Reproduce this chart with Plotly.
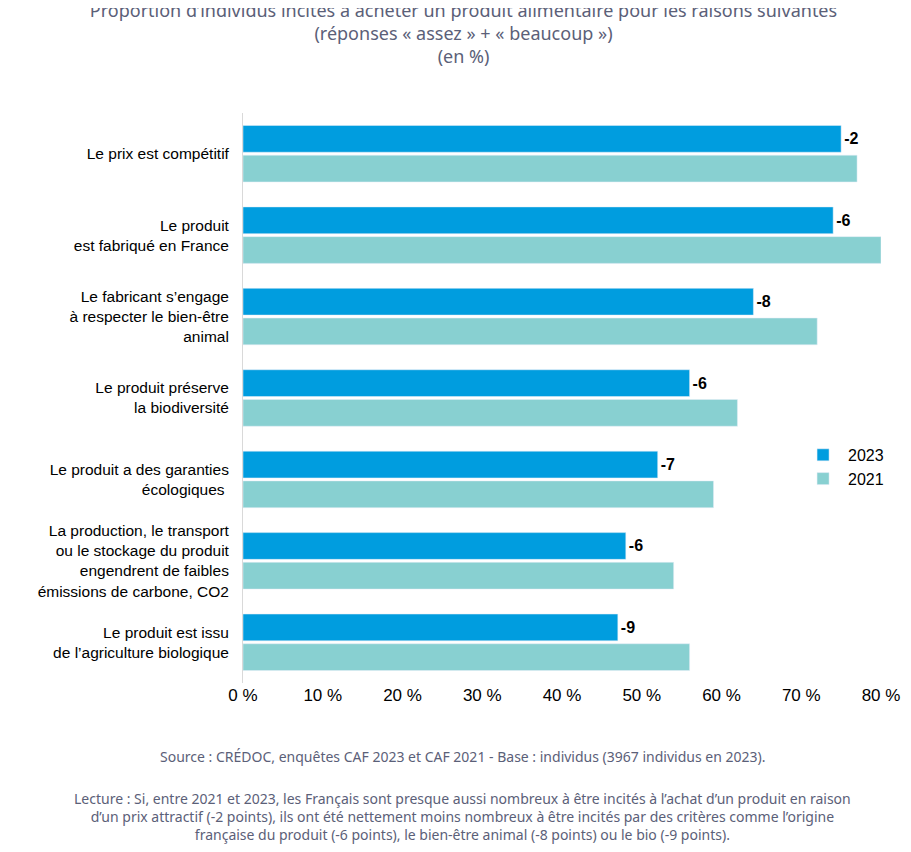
import plotly.graph_objects as go

categories = [
    "Le prix est compétitif",
    "Le produit<br>est fabriqué en France",
    "Le fabricant s’engage<br>à respecter le bien-être<br>animal",
    "Le produit préserve<br>la biodiversité",
    "Le produit a des garanties<br>écologiques ",
    "La production, le transport<br>ou le stockage du produit<br>engendrent de faibles<br>émissions de carbone, CO2",
    "Le produit est issu<br>de l’agriculture biologique",
]
values_2023 = [75, 74, 64, 56, 52, 48, 47]
values_2021 = [77, 80, 72, 62, 59, 54, 56]
evolution = ["-2", "-6", "-8", "-6", "-7", "-6", "-9"]

fig = go.Figure()
fig.add_trace(go.Bar(
    y=categories, x=values_2023, orientation="h", name="2023",
    marker_color="#009DDF",
    text=[f"<b>{e}</b>" for e in evolution], textposition="outside",
    textfont=dict(size=16, color="black"), cliponaxis=False,
))
fig.add_trace(go.Bar(
    y=categories, x=values_2021, orientation="h", name="2021",
    marker_color="#88D0D1",
))

fig.update_layout(
    width=911, height=852,
    margin=dict(l=235, r=38, t=105, b=177),
    plot_bgcolor="white", paper_bgcolor="white",
    font=dict(family="Liberation Sans, Arial, sans-serif", size=15.5, color="black"),
    barmode="group", bargap=0.27, bargroupgap=0.1,
    title=dict(
        text="Proportion d’individus incités à acheter un produit alimentaire pour les raisons suivantes<br>(réponses « assez » + « beaucoup »)<br>(en %)",
        x=0.5, xanchor="center", y=0.99, yanchor="top",
        font=dict(family="Noto Sans, sans-serif", size=18, color="#5B6078"),
    ),
    legend=dict(
        x=0.87, y=0.43, xanchor="left", yanchor="top",
        font=dict(size=16), itemwidth=40, tracegroupgap=12,
        bgcolor="rgba(0,0,0,0)",
    ),
    xaxis=dict(
        range=[0, 80], tickvals=list(range(0, 81, 10)),
        ticktext=[f"{v} %" for v in range(0, 81, 10)],
        showgrid=False, zeroline=False, tickfont=dict(size=17),
    ),
    yaxis=dict(autorange="reversed", showline=True, linecolor="#D9D9D9",
               ticks="", ticklabelstandoff=10),
)

fig.add_annotation(
    text="Source : CRÉDOC, enquêtes CAF 2023 et CAF 2021 - Base : individus (3967 individus en 2023).",
    xref="paper", yref="paper", x=0.344, y=0, yshift=-85, showarrow=False,
    font=dict(family="Noto Sans, sans-serif", size=14, color="#5B6078"), xanchor="center",
)
fig.add_annotation(
    text="Lecture : Si, entre 2021 et 2023, les Français sont presque aussi nombreux à être incités à l’achat d’un produit en raison<br>"
         "d’un prix attractif (-2 points), ils ont été nettement moins nombreux à être incités par des critères comme l’origine<br>"
         "française du produit (-6 points), le bien-être animal (-8 points) ou le bio (-9 points).",
    xref="paper", yref="paper", x=0.344, y=0, yshift=-104, yanchor="top", showarrow=False,
    font=dict(family="Noto Sans, sans-serif", size=14, color="#5B6078"), xanchor="center", align="center",
)

fig.write_html("out.html")
